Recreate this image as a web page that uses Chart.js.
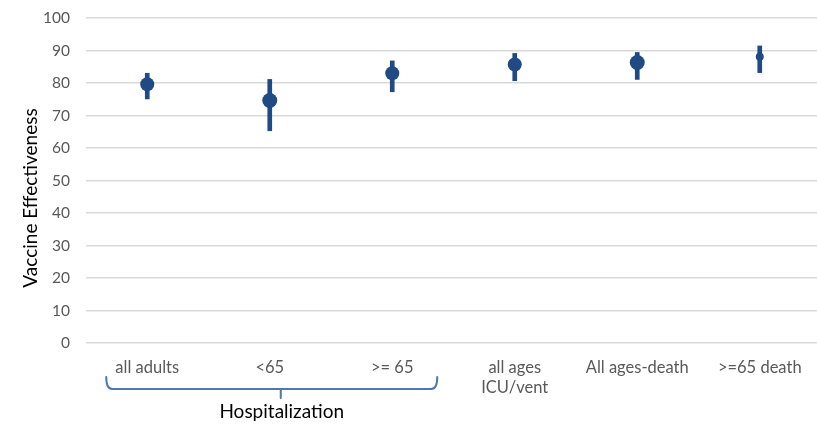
<!DOCTYPE html>
<html>
<head>
<meta charset="utf-8">
<script src="https://cdn.jsdelivr.net/npm/chart.js@4.4.1/dist/chart.umd.min.js"></script>
<style>
  html, body { margin: 0; padding: 0; background: #fff; overflow: hidden; }
  #wrap { position: relative; width: 828px; height: 425px; }
  #c { display: block; width: 828px; height: 425px; }
</style>
</head>
<body>
<div id="wrap"><canvas id="c" width="828" height="425"></canvas></div>
<script>
// Outcome categories (x axis)
const categories = ['all adults', '<65', '>= 65', ['all ages', 'ICU/vent'], 'All ages-death', '>=65 death'];
// Point estimates of vaccine effectiveness (%)
const estimates = [79.6, 74.6, 83.0, 85.7, 86.3, 88.1];
// Confidence interval bounds (%)
const lowerBounds = [75.1, 65.3, 77.3, 80.7, 81.1, 83.2];
const upperBounds = [83.0, 81.1, 86.8, 89.1, 89.4, 91.4];
// Y axis ticks
const yTicks = [0, 10, 20, 30, 40, 50, 60, 70, 80, 90, 100];

const navy = '#1F4A84';

// Bracket grouping the first three hospitalization categories, plus the y axis title
const bracketPlugin = {
  id: 'groupBracket',
  afterDraw(chart) {
    const { ctx } = chart;
    const x = chart.scales.x;
    const left = x.getPixelForValue(0) - 41;
    const right = x.getPixelForValue(2) + 45;
    const mid = x.getPixelForValue(1) + 11;
    const yLine = 389, yTop = 377, yTip = 398;
    ctx.save();
    ctx.strokeStyle = '#4A78B8';
    ctx.lineWidth = 2;
    ctx.lineJoin = 'round';
    ctx.lineCap = 'round';
    ctx.beginPath();
    ctx.moveTo(left, yTop);
    ctx.quadraticCurveTo(left, yLine, left + 6, yLine);
    ctx.lineTo(right - 6, yLine);
    ctx.quadraticCurveTo(right, yLine, right, yTop);
    ctx.moveTo(mid, yLine);
    ctx.lineTo(mid, yTip);
    ctx.stroke();
    ctx.fillStyle = '#000';
    ctx.font = '19px Lato';
    ctx.textAlign = 'center';
    ctx.textBaseline = 'middle';
    ctx.fillText('Hospitalization', mid + 1, 412);

    ctx.translate(31, 198);
    ctx.rotate(-Math.PI / 2);
    ctx.fillText('Vaccine Effectiveness', 0, 0);
    ctx.restore();
  }
};

new Chart(document.getElementById('c'), {
  type: 'bar',
  data: {
    labels: categories,
    datasets: [
      {
        type: 'bar',
        label: 'CI',
        data: lowerBounds.map((lo, i) => [lo, upperBounds[i]]),
        backgroundColor: navy,
        borderWidth: 0,
        barThickness: 4,
        grouped: false,
        order: 2
      },
      {
        type: 'line',
        label: 'VE',
        data: estimates,
        showLine: false,
        pointRadius: [7, 7.5, 7, 7, 7.5, 4],
        pointHoverRadius: [7, 7.5, 7, 7, 7.5, 4],
        pointBackgroundColor: navy,
        pointBorderWidth: 0,
        order: 1
      }
    ]
  },
  options: {
    responsive: false,
    animation: false,
    devicePixelRatio: 1,
    layout: { padding: { top: 18, left: 0, right: 0, bottom: 0 } },
    plugins: { legend: { display: false }, tooltip: { enabled: false } },
    scales: {
      x: {
        grid: { display: false, drawTicks: false },
        border: { display: false },
        ticks: { color: '#595959', font: { family: 'Lato', size: 16.5 }, padding: 15, maxRotation: 0, autoSkip: false },
        afterFit(s) { s.height = 82; s.paddingLeft = 0; s.paddingRight = 0; }
      },
      y: {
        min: 0,
        max: 100,
        afterBuildTicks(s) { s.ticks = yTicks.map(v => ({ value: v })); },
        grid: { color: '#D9D9D9', lineWidth: 1.5, drawTicks: false },
        border: { display: false },
        ticks: { color: '#595959', font: { family: 'Lato', size: 15.5 }, padding: 16 },
        afterFit(s) { s.width = 86; s.paddingTop = 0; s.paddingBottom = 0; }
      }
    }
  },
  plugins: [bracketPlugin]
});
</script>
</body>
</html>
